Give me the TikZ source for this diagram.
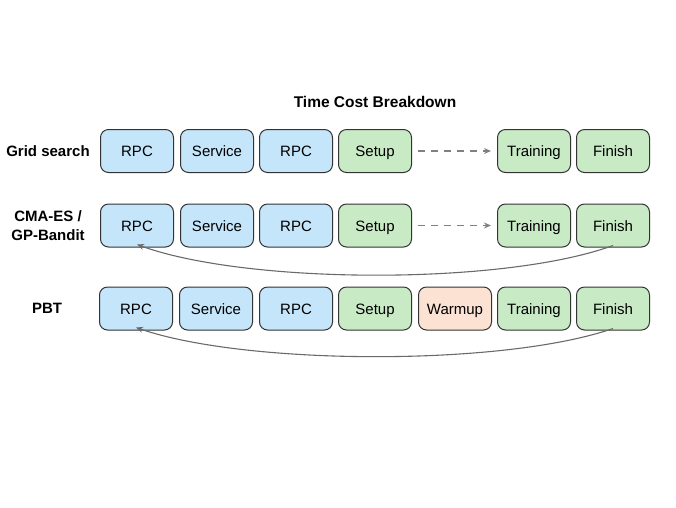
\documentclass[tikz,border=0pt]{standalone}
\usepackage{fontspec}
\setmainfont{Liberation Sans}
\usetikzlibrary{arrows.meta}
\definecolor{bluefill}{HTML}{C4E5FA}
\definecolor{greenfill}{HTML}{C8EBC6}
\definecolor{orangefill}{HTML}{FCE2D2}
\definecolor{boxline}{HTML}{333333}
\definecolor{arrowgray}{HTML}{6A6A6A}
\definecolor{dashgray}{HTML}{808080}
\begin{document}
\begin{tikzpicture}[x=1pt,y=-1pt,
  stage/.style={draw=boxline, line width=1pt, rounded corners=8pt,
    minimum width=73pt, minimum height=43pt, inner sep=0pt,
    text height=11.5pt, text depth=0pt,
    font=\fontsize{15}{18}\selectfont},
  bluebox/.style={stage, fill=bluefill},
  greenbox/.style={stage, fill=greenfill},
  orangebox/.style={stage, fill=orangefill},
  rowlabel/.style={font=\fontsize{15}{19}\selectfont\bfseries, align=center},
  dasharrow/.style={draw=dashgray, line width=1.2pt, dash pattern=on 7pt off 6pt,
    -{Stealth[length=7pt,width=6pt]}},
  backarrow/.style={draw=arrowgray, line width=1.1pt,
    -{Stealth[length=7pt,width=6pt]}}]
\useasboundingbox (0,0) rectangle (676,507);

\node[font=\fontsize{15.5}{18}\selectfont\bfseries] (title) at (375,102) {Time Cost Breakdown};

% Row 1
\node[rowlabel] (l1) at (48,151) {Grid search};
\node[bluebox] (a1) at (137,151) {RPC};
\node[bluebox] (b1) at (217,151) {Service};
\node[bluebox] (c1) at (296,151) {RPC};
\node[greenbox] (d1) at (375,151) {Setup};
\node[greenbox] (f1) at (534,151) {Training};
\node[greenbox] (g1) at (613,151) {Finish};
\draw[dasharrow] ([xshift=6pt]d1.east) -- ([xshift=-6pt]f1.west);

% Row 2
\node[rowlabel] (l2) at (48,226) {CMA-ES /\\GP-Bandit};
\node[bluebox] (a2) at (137,225.5) {RPC};
\node[bluebox] (b2) at (217,225.5) {Service};
\node[bluebox] (c2) at (296,225.5) {RPC};
\node[greenbox] (d2) at (375,225.5) {Setup};
\node[greenbox] (f2) at (534,225.5) {Training};
\node[greenbox] (g2) at (613,225.5) {Finish};
\draw[dasharrow] ([xshift=6pt]d2.east) -- ([xshift=-6pt]f2.west);
\draw[backarrow] ([yshift=2pt]g2.south) .. controls +(-110,40) and +(110,40) .. ([yshift=3pt]a2.south);

% Row 3
\node[rowlabel] (l3) at (47,308.5) {PBT};
\node[bluebox] (a3) at (136,308.5) {RPC};
\node[bluebox] (b3) at (216,308.5) {Service};
\node[bluebox] (c3) at (296,308.5) {RPC};
\node[greenbox] (d3) at (375,308.5) {Setup};
\node[orangebox] (e3) at (455,308.5) {Warmup};
\node[greenbox] (f3) at (534,308.5) {Training};
\node[greenbox] (g3) at (613,308.5) {Finish};
\draw[backarrow] ([yshift=2pt]g3.south) .. controls +(-110,38) and +(110,38) .. ([yshift=3pt]a3.south);
\end{tikzpicture}
\end{document}
